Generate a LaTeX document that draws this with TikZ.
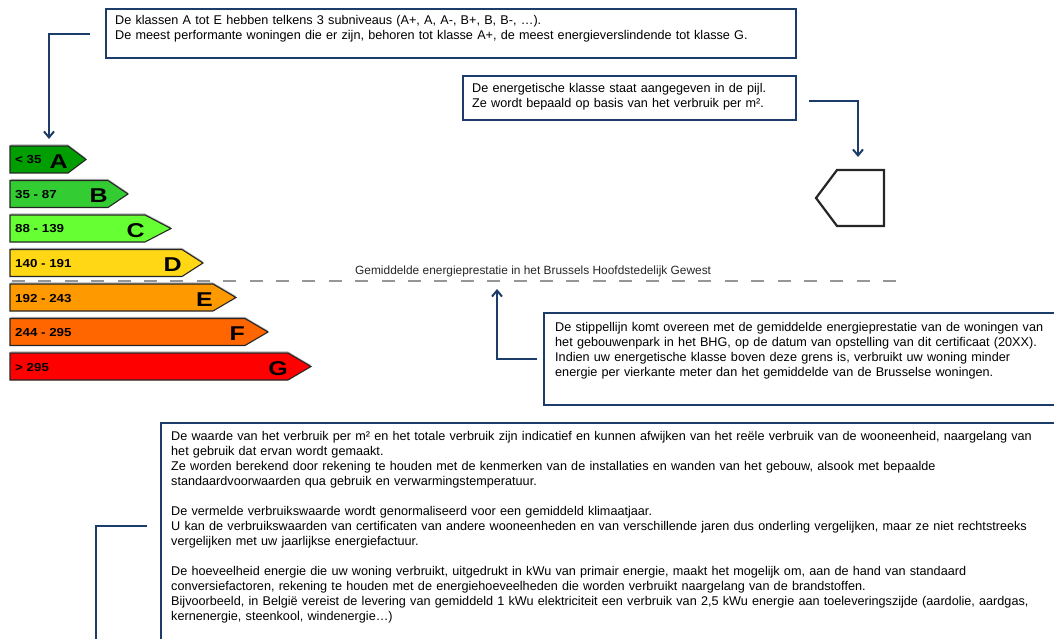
\documentclass[tikz,border=0pt]{standalone}
\usepackage{fontspec}
\setmainfont{Liberation Sans}
\usetikzlibrary{arrows.meta,calc}
\definecolor{navy}{RGB}{28,60,105}
\definecolor{cA}{RGB}{0,158,0}
\definecolor{cB}{RGB}{51,204,51}
\definecolor{cC}{RGB}{102,255,51}
\definecolor{cD}{RGB}{255,215,20}
\definecolor{cE}{RGB}{255,153,0}
\definecolor{cF}{RGB}{255,102,0}
\definecolor{cG}{RGB}{255,0,0}
\definecolor{dashgray}{RGB}{150,150,150}
\begin{document}
\begin{tikzpicture}[x=1pt,y=-1pt,
  conn/.style={draw=navy, line width=2pt, -{Straight Barb[length=6pt,width=10pt,line width=2pt]}},
  plainconn/.style={draw=navy, line width=2pt},
  infobox/.style={draw=navy, line width=2pt, fill=white, inner sep=0pt, anchor=north west},
  txt/.style={anchor=base west, inner sep=0pt, align=left, text width=1000pt, font=\fontsize{12.65}{15}\selectfont},
  rangetxt/.style={anchor=base west, inner sep=0pt, font=\fontsize{11.6}{12}\selectfont\bfseries},
  lettertxt/.style={anchor=base east, inner sep=0pt, font=\fontsize{20}{20}\selectfont\bfseries},
  avgtxt/.style={anchor=base west, inner sep=0pt, font=\fontsize{11.9}{13}\selectfont, text=black!85},
  barborder/.style={draw=black!85, line width=1.1pt, line join=miter}]
\useasboundingbox (0,0) rectangle (1054,639);
\clip (0,0) rectangle (1054,639);

% energy bars
\foreach \n/\t/\r/\p/\c/\rg in {A/146/68/86/cA/{< 35}, B/180.5/108/128/cB/{35 - 87}, C/215/145/171/cC/{88 - 139}, D/249.5/182/203/cD/{140 - 191}, E/284/213/236/cE/{192 - 243}, F/318.5/245/268/cF/{244 - 295}, G/353/288/311/cG/{> 295}}{
  \draw[black!30, line width=1pt] (10.5,\t-1.2) -- (\r-0.5,\t-1.2) -- (\p-0.5,\t+12.3);
  \fill[\c] (10,\t) -- (\r,\t) -- (\p,\t+13.5) -- (\r,\t+27) -- (10,\t+27) -- cycle;
  \draw[barborder] (10,\t) -- (\r,\t) -- (\p,\t+13.5) -- (\r,\t+27) -- (10,\t+27) -- cycle;
  \node[rangetxt] (r\n) at (15,\t+18) {\scalebox{1.15}[1]{\rg}};
  \node[lettertxt] (l\n) at (\r,\t+22) {\scalebox{1.25}[1]{\n}};
}

% average dashed line
\draw[dashgray, line width=1.8pt, dash pattern=on 13pt off 13.4pt] (12,281) -- (896,281);
\node[avgtxt] (avg) at (355,274.5) {Gemiddelde energieprestatie in het Brussels Hoofdstedelijk Gewest};

% top box
\node[infobox, minimum width=690pt, minimum height=49pt] (topbox) at (105,8) {};
\node[txt] (toptext) at (115,25) {De klassen A tot E hebben telkens 3 subniveaus (A+, A, A-, B+, B, B-, …).\\
De meest performante woningen die er zijn, behoren tot klasse A+, de meest energieverslindende tot klasse G.};

% energetische klasse box
\node[infobox, minimum width=333pt, minimum height=44pt] (klassebox) at (462,75) {};
\node[txt] (klassetext) at (472,93) {De energetische klasse staat aangegeven in de pijl.\\
Ze wordt bepaald op basis van het verbruik per m².};

% pentagon arrow
\draw[line width=2.2pt, draw=black!85, line join=miter] (837,170) -- (884,170) -- (884,226) -- (837,226) -- (816,198) -- cycle;

% stippellijn box
\node[infobox, minimum width=530pt, minimum height=92pt] (stipbox) at (543,312) {};
\node[txt] (stiptext) at (555,331) {De stippellijn komt overeen met de gemiddelde energieprestatie van de woningen van\\
het gebouwenpark in het BHG, op de datum van opstelling van dit certificaat (20XX).\\
Indien uw energetische klasse boven deze grens is, verbruikt uw woning minder\\
energie per vierkante meter dan het gemiddelde van de Brusselse woningen.};

% bottom box
\node[infobox, minimum width=920pt, minimum height=240pt] (bottombox) at (160,422) {};
\node[txt] (bottomtext) at (171,440) {De waarde van het verbruik per m² en het totale verbruik zijn indicatief en kunnen afwijken van het reële verbruik van de wooneenheid, naargelang van\\
het gebruik dat ervan wordt gemaakt.\\
Ze worden berekend door rekening te houden met de kenmerken van de installaties en wanden van het gebouw, alsook met bepaalde\\
standaardvoorwaarden qua gebruik en verwarmingstemperatuur.\\[15pt]
De vermelde verbruikswaarde wordt genormaliseerd voor een gemiddeld klimaatjaar.\\
U kan de verbruikswaarden van certificaten van andere wooneenheden en van verschillende jaren dus onderling vergelijken, maar ze niet rechtstreeks\\
vergelijken met uw jaarlijkse energiefactuur.\\[15pt]
De hoeveelheid energie die uw woning verbruikt, uitgedrukt in kWu van primair energie, maakt het mogelijk om, aan de hand van standaard\\
conversiefactoren, rekening te houden met de energiehoeveelheden die worden verbruikt naargelang van de brandstoffen.\\
Bijvoorbeeld, in België vereist de levering van gemiddeld 1 kWu elektriciteit een verbruik van 2,5 kWu energie aan toeleveringszijde (aardolie, aardgas,\\
kernenergie, steenkool, windenergie…)};

% connector coordinates
\coordinate (topstart) at (90,34);
\coordinate (barAtarget) at (49,139);
\coordinate (klassestart) at (809,101);
\coordinate (pentatarget) at (858,157);
\coordinate (stipstart) at (537,359);
\coordinate (avgtarget) at (497,289);
\coordinate (botstart) at (147,526);
\coordinate (botend) at (96,660);

% connectors
\draw[conn] (topstart) -| (barAtarget);
\draw[conn] (klassestart) -| (pentatarget);
\draw[conn] (stipstart) -| (avgtarget);
\draw[plainconn] (botstart) -| (botend);
\end{tikzpicture}
\end{document}
